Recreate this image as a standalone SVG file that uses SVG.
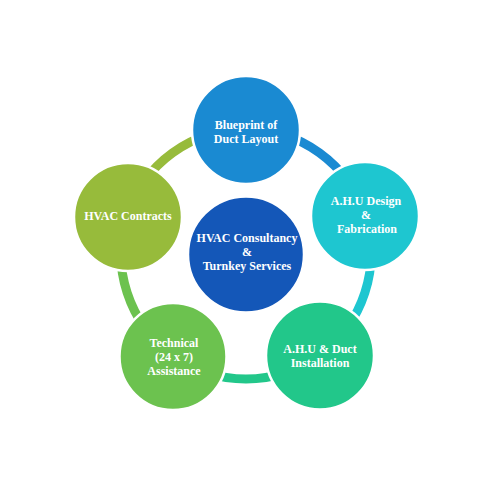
<svg xmlns="http://www.w3.org/2000/svg" width="500" height="489" viewBox="0 0 500 489">
<style>
.ring{fill:none;stroke-width:9}
.node{stroke:#ffffff;stroke-width:2.5}
.lbl{font-family:"Liberation Serif","Times New Roman",serif;font-weight:bold;font-size:12px;fill:#ffffff;text-anchor:middle}
</style>
<rect width="500" height="489" fill="#ffffff"/>
<g id="connectors">
<path class="ring" stroke="#1a8ad2" d="M246,129 A125,125 0 0 1 364.88,215.37"/>
<path class="ring" stroke="#1ec6d0" d="M364.88,215.37 A125,125 0 0 1 319.47,355.13"/>
<path class="ring" stroke="#22c78a" d="M319.47,355.13 A125,125 0 0 1 172.53,355.13"/>
<path class="ring" stroke="#6cc24f" d="M172.53,355.13 A125,125 0 0 1 127.12,215.37"/>
<path class="ring" stroke="#97bb3b" d="M127.12,215.37 A125,125 0 0 1 246,129"/>
</g>
<g id="center">
<circle class="node" cx="246" cy="254.5" r="58" fill="#1457b8"/>
<text class="lbl" x="247" y="242">HVAC Consultancy</text>
<text class="lbl" x="247" y="256">&amp;</text>
<text class="lbl" x="247" y="270">Turnkey Services</text>
</g>
<g id="blueprint">
<circle class="node" cx="246" cy="130" r="54" fill="#1a8ad2"/>
<text class="lbl" x="246" y="129">Blueprint of</text>
<text class="lbl" x="246" y="143">Duct Layout</text>
</g>
<g id="ahu-design">
<circle class="node" cx="365" cy="216" r="54" fill="#1ec6d0"/>
<text class="lbl" x="366" y="205">A.H.U Design</text>
<text class="lbl" x="366" y="219">&amp;</text>
<text class="lbl" x="367" y="233">Fabrication</text>
</g>
<g id="ahu-install">
<circle class="node" cx="320" cy="355.5" r="54" fill="#22c78a"/>
<text class="lbl" x="320" y="353">A.H.U &amp; Duct</text>
<text class="lbl" x="320" y="367">Installation</text>
</g>
<g id="technical">
<circle class="node" cx="173" cy="356.5" r="53.5" fill="#6cc24f"/>
<text class="lbl" x="174" y="347">Technical</text>
<text class="lbl" x="174" y="361">(24 x 7)</text>
<text class="lbl" x="174" y="375">Assistance</text>
</g>
<g id="contracts">
<circle class="node" cx="128" cy="217" r="54" fill="#97bb3b"/>
<text class="lbl" x="128" y="220">HVAC Contracts</text>
</g>
</svg>
